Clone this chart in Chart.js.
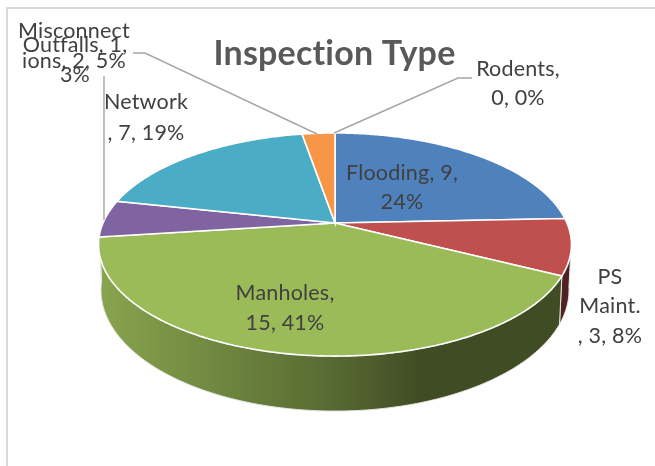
<!DOCTYPE html>
<html lang="en">
<head>
  <meta charset="UTF-8" />
  <title>Inspection Type</title>
  <script src="https://cdn.jsdelivr.net/npm/chart.js"></script>
  <style>
    body { margin: 0; background: #fff; }
    #frame { position: absolute; left: 6px; top: 7px; right: 0; bottom: 0; border-left: 2px solid #d9d9d9; border-top: 2px solid #d9d9d9; }
    #wrap { position: relative; width: 655px; height: 466px; overflow: hidden; }
    canvas { position: absolute; left: 0; top: 0; }
  </style>
</head>
<body>
  <div id="wrap">
    <div id="frame"></div>
    <canvas id="chartCanvas" width="655" height="466"></canvas>
  </div>

  <script>
    const categories = ['Flooding', 'PS Maint.', 'Manholes', 'Misconnections', 'Network', 'Outfalls', 'Rodents'];
    const inspections = [9, 3, 15, 2, 7, 1, 0];
    const sliceColors = ['#4f81bd', '#c0504d', '#9bbb59', '#8064a2', '#4bacc6', '#f79646', '#2c4d75'];
    const chartTitle = 'Inspection Type';

    // data labels, wrapped the way the original wraps them
    const labelLines = [
      ['Flooding, 9,', '24%'],
      ['Rodents,', '0, 0%'],
      ['PS', 'Maint.', ', 3, 8%'],
      ['Manholes,', '15, 41%'],
      ['Network', ', 7, 19%'],
      ['Misconnect', 'ions, 2, 5%'],
      ['Outfalls, 1,', '3%']
    ];
    const labelSpots = [
      { x: 402, y: 173, gap: 29.5 },
      { x: 518, y: 69, gap: 29.5 },
      { x: 610, y: 277, gap: 29.5 },
      { x: 285, y: 293, gap: 30 },
      { x: 146, y: 102, gap: 31 },
      { x: 74, y: 31, gap: 30 },
      { x: 75, y: 45, gap: 30 }
    ];
    const leaders = [
      [[133, 53], [145, 53], [317, 134]],
      [[472, 78], [458, 78], [334, 133]],
      [[104, 76], [104, 220]]
    ];

    // perspective of the disc: tilt squeezes the far side, both rims share it
    const tilt = -0.193;
    const topRim = { x: 335, y: 223, bx: 232, by: 107.4 };
    const lowRim = { x: 335, y: 266.7, bx: 229.6, by: 116.5 };

    function project(rim, a) {
      const u = Math.cos(a), v = Math.sin(a);
      const d = 1 + tilt * v;
      return [rim.x + rim.bx * u / d, rim.y + rim.by * v / d];
    }

    function rimPoints(rim, a0, a1) {
      const pts = [];
      const n = Math.max(2, Math.ceil(Math.abs(a1 - a0) / 0.01));
      for (let i = 0; i <= n; i++) pts.push(project(rim, a0 + (a1 - a0) * i / n));
      return pts;
    }

    function shade(hex, f) {
      const n = parseInt(hex.slice(1), 16);
      const r = Math.round((n >> 16) * f), g = Math.round(((n >> 8) & 255) * f), b = Math.round((n & 255) * f);
      return `rgb(${r},${g},${b})`;
    }

    const pie3d = {
      id: 'pie3d',
      beforeDraw(chart) {
        // stops the Lato "ti" ligature
        chart.ctx.letterSpacing = '0.2px';
      },
      beforeDatasetsDraw(chart) {
        const ctx = chart.ctx;
        const arcs = chart.getDatasetMeta(0).data;
        const frontFrom = 0.17, frontTo = 3.02;

        // side wall first
        arcs.forEach((arc, i) => {
          const a0 = Math.max(arc.startAngle, frontFrom);
          const a1 = Math.min(arc.endAngle, frontTo);
          if (a1 <= a0) return;
          const pts = rimPoints(topRim, a0, a1).concat(rimPoints(lowRim, a1, a0));
          const grad = ctx.createLinearGradient(98, 0, 571, 0);
          grad.addColorStop(0, shade(sliceColors[i], 0.88));
          grad.addColorStop(0.5, shade(sliceColors[i], 0.56));
          grad.addColorStop(0.68, shade(sliceColors[i], 0.41));
          grad.addColorStop(1, shade(sliceColors[i], 0.41));
          ctx.beginPath();
          pts.forEach((p, k) => k ? ctx.lineTo(p[0], p[1]) : ctx.moveTo(p[0], p[1]));
          ctx.closePath();
          ctx.fillStyle = grad;
          ctx.fill();
          ctx.strokeStyle = '#e4e4e4';
          ctx.lineWidth = 1;
          ctx.stroke();
        });

        // top face
        arcs.forEach((arc, i) => {
          if (arc.endAngle - arc.startAngle <= 0) return;
          ctx.beginPath();
          ctx.moveTo(topRim.x, topRim.y);
          rimPoints(topRim, arc.startAngle, arc.endAngle).forEach(p => ctx.lineTo(p[0], p[1]));
          ctx.closePath();
          ctx.fillStyle = sliceColors[i];
          ctx.fill();
          ctx.strokeStyle = '#ffffff';
          ctx.lineWidth = 1.6;
          ctx.stroke();
        });
        return false;
      },
      afterDraw(chart) {
        const ctx = chart.ctx;
        ctx.strokeStyle = '#a6a6a6';
        ctx.lineWidth = 1.4;
        leaders.forEach(line => {
          ctx.beginPath();
          line.forEach((p, k) => k ? ctx.lineTo(p[0], p[1]) : ctx.moveTo(p[0], p[1]));
          ctx.stroke();
        });
        ctx.fillStyle = '#404040';
        ctx.font = '21.5px Lato';
        ctx.textAlign = 'center';
        ctx.textBaseline = 'middle';
        labelLines.forEach((lines, i) => {
          const s = labelSpots[i];
          lines.forEach((t, k) => ctx.fillText(t, s.x, s.y + k * s.gap));
        });
      }
    };

    new Chart(document.getElementById('chartCanvas'), {
      type: 'pie',
      data: {
        labels: categories,
        datasets: [{ data: inspections, backgroundColor: sliceColors }]
      },
      options: {
        responsive: false,
        animation: false,
        layout: { padding: { left: 14 } },
        plugins: {
          legend: { display: false },
          tooltip: { enabled: false },
          title: {
            display: true,
            text: chartTitle,
            color: '#595959',
            font: { family: 'Lato', size: 34, weight: 'bold' },
            padding: { top: 34, bottom: 0 }
          }
        }
      },
      plugins: [pie3d]
    });
  </script>
</body>
</html>
